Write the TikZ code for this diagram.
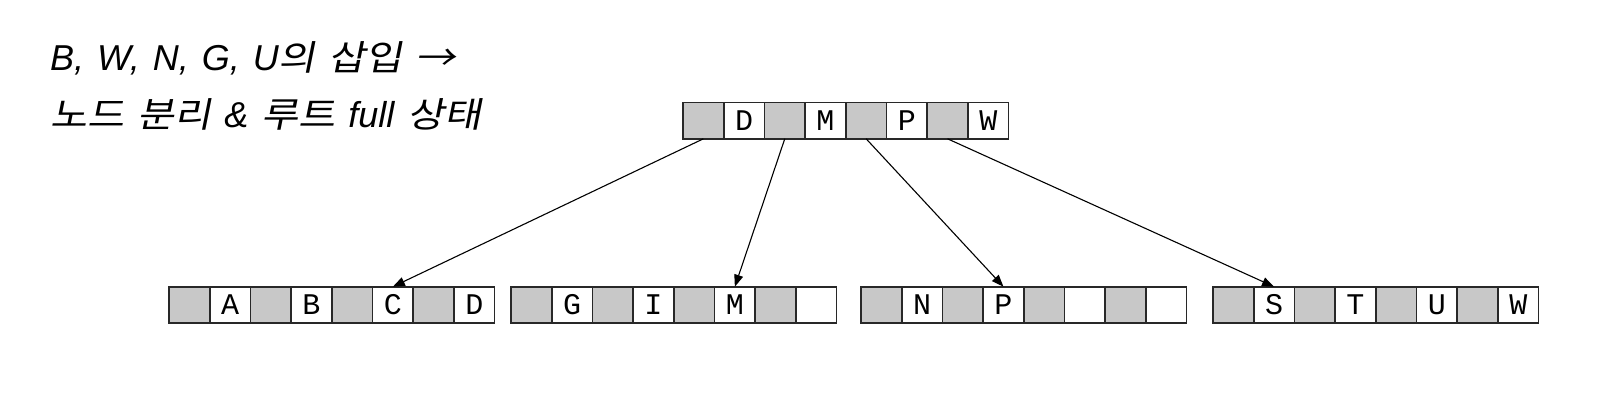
\documentclass[tikz,border=0pt]{standalone}
\usepackage{fontspec}
\setmainfont{Liberation Sans}
\setmonofont{Liberation Mono}
\newfontfamily\kr{Noto Sans CJK KR}[FakeSlant=0.2,FakeStretch=1.15]
\usetikzlibrary{arrows.meta}
\definecolor{cellgray}{RGB}{200,200,200}
\definecolor{edge}{RGB}{40,40,40}
\newcommand\ttlfont{\fontsize{36}{36}\selectfont}
\newcommand\widesp{\spaceskip=13pt\relax}
\tikzset{
  cellbase/.style={draw=edge, line width=1.6pt, minimum width=40.7pt, minimum height=36.5pt, inner sep=0pt, outer sep=0pt, font=\ttfamily\fontsize{30}{30}\selectfont},
  ptr/.style={cellbase, fill=cellgray},
  keycell/.style={cellbase, fill=white},
  arr/.style={line width=1.1pt, -{Triangle[length=12pt,width=9pt]}},
  title/.style={anchor=base west, inner sep=0pt, font=\ttlfont}
}
\newcommand\krt[1]{{\kr\fontsize{35}{35}\selectfont\widesp #1}}
\newcommand\btnode[7]{%
  \node[ptr]     (#1-0) at ({#2+40.7*0.5},{#3+18.25}) {};
  \node[keycell] (#1-1) at ({#2+40.7*1.5},{#3+18.25}) {#4};
  \node[ptr]     (#1-2) at ({#2+40.7*2.5},{#3+18.25}) {};
  \node[keycell] (#1-3) at ({#2+40.7*3.5},{#3+18.25}) {#5};
  \node[ptr]     (#1-4) at ({#2+40.7*4.5},{#3+18.25}) {};
  \node[keycell] (#1-5) at ({#2+40.7*5.5},{#3+18.25}) {#6};
  \node[ptr]     (#1-6) at ({#2+40.7*6.5},{#3+18.25}) {};
  \node[keycell] (#1-7) at ({#2+40.7*7.5},{#3+18.25}) {#7};
}
\begin{document}
\begin{tikzpicture}[x=1pt,y=-1pt]
\useasboundingbox (0,0) rectangle (1602,418);
\node[title] (t1) at (50,70) {\widesp{\itshape B, W, N, G, U}\krt{의 삽입 →}};
\node[title] (t2) at (50,127) {\widesp\krt{노드 분리} {\itshape \&} \krt{루트} {\itshape full} \krt{상태}};
\btnode{r}{683}{102.3}{D}{M}{P}{W}
\btnode{a}{169}{286.7}{A}{B}{C}{D}
\btnode{b}{511}{286.7}{G}{I}{M}{}
\btnode{c}{861}{286.7}{N}{P}{}{}
\btnode{d}{1213}{286.7}{S}{T}{U}{W}
\draw[arr] (r-0.south) -- (a-5.north);
\draw[arr] (r-2.south) -- (b-5.north);
\draw[arr] (r-4.south) -- (c-3.north);
\draw[arr] (r-6.south) -- (d-1.north);
\end{tikzpicture}
\end{document}
